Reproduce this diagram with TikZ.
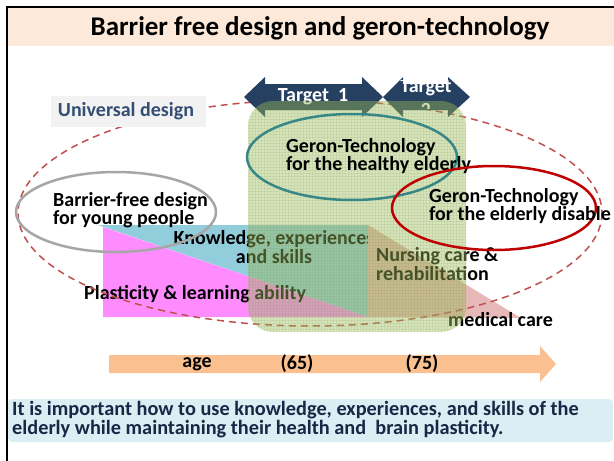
\documentclass[tikz,border=0pt]{standalone}
\usepackage{fontspec}
\setmainfont{Carlito}
\usepackage{xcolor}
\definecolor{tnavy}{RGB}{38,64,97}
\definecolor{titlebg}{RGB}{253,233,217}
\definecolor{udred}{RGB}{192,80,77}
\definecolor{gtolive}{RGB}{155,187,89}
\definecolor{gtteal}{RGB}{55,135,135}
\definecolor{kblue}{RGB}{146,205,220}
\definecolor{ppink}{RGB}{255,140,255}
\definecolor{mrose}{RGB}{230,185,184}
\definecolor{agebar}{RGB}{250,192,144}
\definecolor{notebg}{RGB}{219,238,244}
\definecolor{notetxt}{RGB}{23,40,70}
\definecolor{udbox}{RGB}{242,242,242}
\definecolor{udtxt}{RGB}{52,78,115}
\usepackage{tikz}
\usetikzlibrary{patterns}

\begin{document}
\begin{tikzpicture}[x=1pt,y=-1pt]
    \tikzstyle{every node}=[font=\bfseries\fontsize{20}{17}\selectfont,inner sep=0pt]
    \tikzstyle{lbl}=[anchor=west,align=left]
    \useasboundingbox (0,0) rectangle (614,461);

    % frame and title
    \fill [titlebg] (8,8) rectangle (614,46);
    \draw [line width=2.5pt] (7,461) -- (7,7) -- (614,7);
    \node (title) at (320,28) {\fontsize{27}{28}\selectfont Barrier free design and geron-technology};

    % triangles
    \fill [kblue] (98,225) -- (368,225) -- (368,317) -- cycle;
    \fill [ppink] (103,227) -- (368,317) -- (103,317) -- cycle;
    \node [align=center,font=\bfseries\fontsize{20}{15.5}\selectfont] (know) at (274,247) {Knowledge, experiences\\and skills};
    \fill [mrose] (368,225) -- (521,318) -- (368,317) -- cycle;
    \node [lbl] (nurse) at (376,264) {Nursing care \&\\rehabilitation};
    \node [lbl] (plast) at (84,294) {Plasticity \& learning ability};
    \node [lbl] (medic) at (448,320) {medical care};

    \draw [udred,dashed,line width=1.5pt,dash pattern=on 7pt off 5pt] (310,213) ellipse [x radius=292,y radius=113];
    \fill [udbox] (51,96) rectangle (206,127);
    \node [text=udtxt] (ud) at (126,111) {Universal design};

    % targets
    \fill [tnavy] (244,97) -- (265,77) -- (265,84) -- (362,84) -- (362,77) -- (383,97)
      -- (362,117) -- (362,110) -- (265,110) -- (265,117) -- cycle;
    \node [text=white] (t1) at (313,97) {Target\ \ 1};
    \fill [tnavy] (383,97) -- (403,77) -- (403,84) -- (448,84) -- (448,77) -- (470,97)
      -- (448,117) -- (448,110) -- (403,110) -- (403,117) -- cycle;
    \begin{scope}
      \clip (380,80) rectangle (475,108);
      \node [text=white,align=center,font=\bfseries\fontsize{20}{24}\selectfont] (t2) at (426,98) {Target\\2};
    \end{scope}

    % green zone
    \fill [gtolive,fill opacity=0.41,rounded corners=25pt] (248,101) rectangle (466,332);
    \fill [pattern=grid,pattern color=gtolive!80!black,opacity=0.13,rounded corners=25pt] (248,101) rectangle (466,332);

    % ellipses
    \draw [gtteal,line width=2.5pt] (352,157) ellipse [x radius=105,y radius=43];
    \node [lbl] (healthy) at (286,156) {Geron-Technology\\for the healthy elderly};
    \draw [red!75!black,line width=2.5pt] (494,208) ellipse [x radius=102,y radius=42];
    \node [lbl] (disable) at (429,206) {Geron-Technology\\for the elderly disable};
    \draw [black!35,line width=2.5pt] (116,212) ellipse [x radius=100,y radius=40];
    \node [lbl] (young) at (53,210) {Barrier-free design\\for young people};

    % age
    \fill [agebar] (109,355) -- (540,355) -- (540,346) -- (556,364) -- (540,382) -- (540,373) -- (109,373) -- cycle;
    \node (age) at (197,364) {age};
    \node (a65) at (297,364) {(65)};
    \node (a75) at (422,364) {(75)};

    % note
    \fill [notebg,rounded corners=4pt] (8,399) rectangle (613,442);
    \node [lbl,text=notetxt,font=\bfseries\fontsize{20.3}{19}\selectfont] (note) at (12,420)
      {It is important how to use knowledge, experiences, and skills of the\\elderly while maintaining their health and\ \ brain plasticity.};
\end{tikzpicture}
\end{document}
